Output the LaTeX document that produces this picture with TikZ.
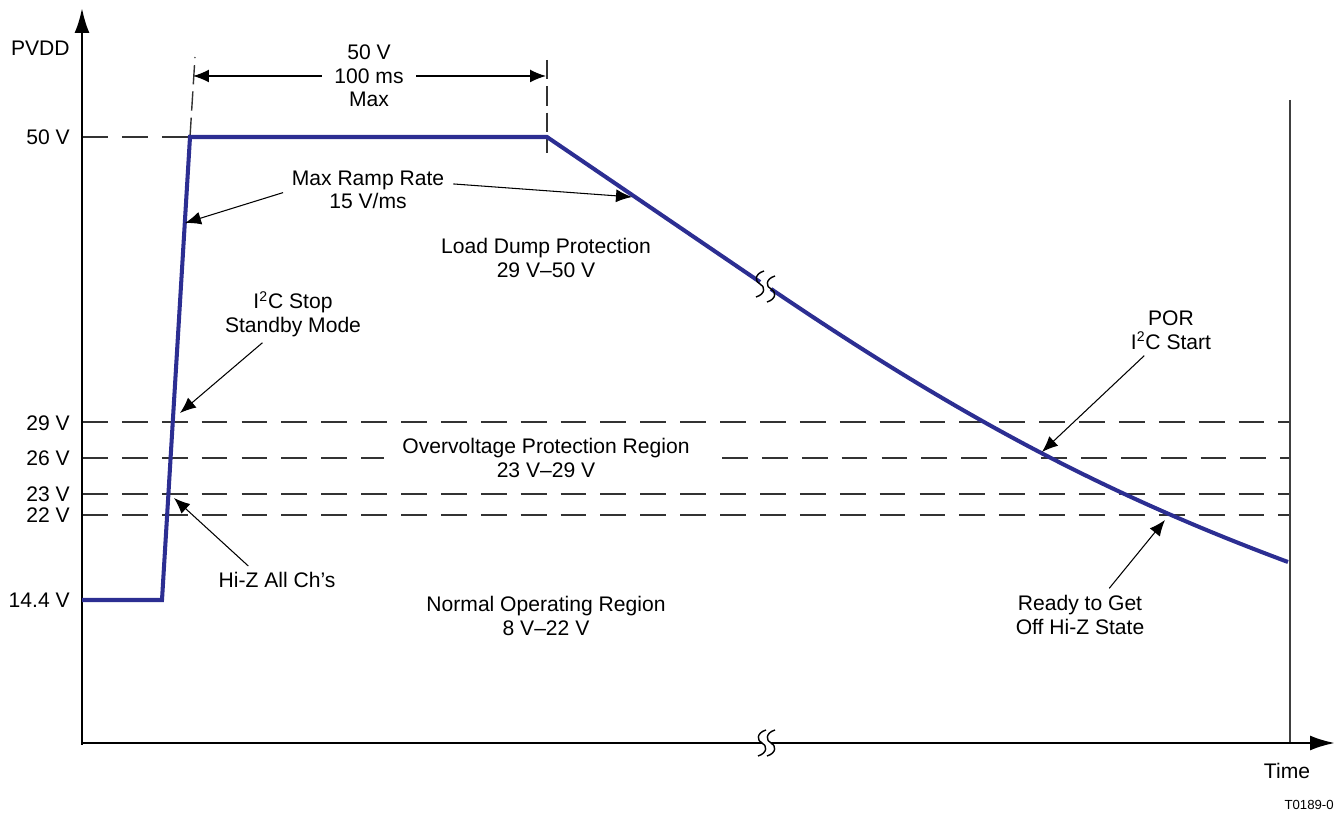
\documentclass[tikz,border=0pt]{standalone}
\usepackage{fontspec}
\setmainfont{Liberation Sans}
\usepackage{tikz}
\usetikzlibrary{arrows.meta}
\definecolor{pvddblue}{RGB}{44,46,146}

\begin{document}
\begin{tikzpicture}[x=0.02cm,y=-0.02cm,font=\fontsize{12}{13.4}\selectfont]
\tikzset{
  lbl/.style={inner sep=0pt,align=center},
  tick/.style={inner sep=0pt,anchor=east},
  level/.style={line width=0.8pt,black!80,dash pattern=on 14.7pt off 8pt},
  guide/.style={line width=0.8pt,black!80,dash pattern=on 11pt off 4pt},
  note/.style={-{Latex[length=3.2mm,width=2.6mm]},line width=0.6pt,shorten <=5pt},
  dim/.style={-{Latex[length=3.2mm,width=2.6mm]},line width=0.8pt,shorten <=7pt},
  axis/.style={line width=1.5pt,-{Latex[length=5mm,width=3mm]}},
  pvdd/.style={line width=2.3pt,pvddblue,line join=miter},
  brk/.pic={\draw[line width=0.8pt,black] (4,-13) .. controls (-6,-10) and (-5,-2) .. (0,0)
      .. controls (5,2) and (6,10) .. (-4,13);}
}
\useasboundingbox (0,0) rectangle (1336,813);

    % voltage levels
    \draw[level] (82,137) -- (190,137);
    \draw[level] (82,422) -- (1290,422);
    \draw[level] (82,458) -- (384,458);
    \draw[level] (722,458) -- (1290,458);
    \draw[level] (82,494) -- (1290,494);
    \draw[level] (82,515) -- (1290,515);
    \draw[guide] (190,137) -- (195,57);
    \draw[guide] (547,60) -- (547,153);
    \draw[line width=1pt,black!75] (1290,100) -- (1290,743);

    % axes
    \draw[axis] (82,745) -- (82,8);
    \draw[line width=1.5pt] (81,743) -- (762,743);
    \draw[axis] (771,743) -- (1335,743);
    \pic at (762,743) {brk};
    \pic at (771,743) {brk};

    \node[tick] (pvddlbl) at (70,48) {PVDD};
    \node[tick] (v50) at (70,137) {50 V};
    \node[tick] (v29) at (70,423) {29 V};
    \node[tick] (v26) at (70,458) {26 V};
    \node[tick] (v23) at (70,494) {23 V};
    \node[tick] (v22) at (70,515) {22 V};
    \node[tick] (v14) at (70,600) {14.4 V};
    \node[lbl] (time) at (1287,771) {Time};
    \node[lbl,anchor=east,font=\fontsize{7.5}{9}\selectfont] (fig) at (1334,805) {T0189-0};

    % supply curve
    \draw[pvdd] (82,600) -- (162,600) -- (190,137) -- (547,137) -- (760,282);
    \draw[pvdd] (771,289) .. controls (951,411) and (1097,491) .. (1288,562);
    \pic at (760,284) {brk};
    \pic at (771,289) {brk};

    % 100 ms window
    \node[lbl] (dur) at (369,76) {50 V\\100 ms\\Max};
    \coordinate (durL) at (193,76);
    \coordinate (durR) at (546,76);
    \draw[dim] (dur.west) -- (durL);
    \draw[dim] (dur.east) -- (durR);

    % regions
    \node[lbl] (dump) at (546,258) {Load Dump Protection\\29 V--50 V};
    \node[lbl] (ovp) at (546,458) {Overvoltage Protection Region\\23 V--29 V};
    \node[lbl] (normal) at (546,616) {Normal Operating Region\\8 V--22 V};

    % events along the curve
    \coordinate (rampUp) at (185,223);
    \coordinate (rampDown) at (632,197);
    \coordinate (stopPt) at (180,413);
    \coordinate (hizPt) at (174,498);
    \coordinate (porPt) at (1042,452);
    \coordinate (readyPt) at (1165,520);

    \node[lbl] (ramp) at (368,190) {Max Ramp Rate\\15 V/ms};
    \draw[note] (ramp.west) -- (rampUp);
    \draw[note] (ramp.5) -- (rampDown);

    \node[lbl] (stop) at (293,314) {I\textsuperscript{2}C Stop\\Standby Mode};
    \draw[note] (stop.-136) -- (stopPt);

    \node[lbl] (hiz) at (277,580) {Hi-Z All Ch's};
    \draw[note] (hiz.160) -- (hizPt);

    \node[lbl] (por) at (1171,330) {POR\\I\textsuperscript{2}C Start};
    \draw[note] (por.-136) -- (porPt);

    \node[lbl] (ready) at (1080,615) {Ready to Get\\Off Hi-Z State};
    \draw[note] (ready.40) -- (readyPt);

\end{tikzpicture}
\end{document}
